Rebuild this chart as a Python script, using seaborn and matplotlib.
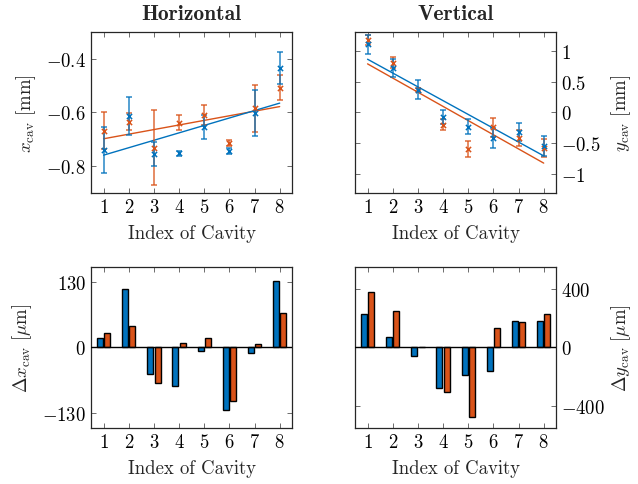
import numpy as np
import pandas as pd
import matplotlib
matplotlib.use("Agg")
import matplotlib.pyplot as plt
from matplotlib.ticker import FuncFormatter
import seaborn as sns

# ---------------- data ----------------
cavity = [1, 2, 3, 4, 5, 6, 7, 8]
series = ["A", "B"]

# Horizontal position x_cav [mm] (mean, error)
xcav_a = [-0.740, -0.614, -0.754, -0.752, -0.653, -0.743, -0.601, -0.433]
xcav_a_err = [0.086, 0.071, 0.045, 0.010, 0.045, 0.010, 0.085, 0.060]
xcav_b = [-0.668, -0.634, -0.731, -0.638, -0.610, -0.715, -0.585, -0.507]
xcav_b_err = [0.068, 0.033, 0.140, 0.027, 0.037, 0.011, 0.088, 0.047]
xfit_a = [0.0277, -0.7867]   # slope, intercept
xfit_b = [0.01714, -0.7151]

# Vertical position y_cav [mm]
ycav_a = [1.10, 0.715, 0.366, -0.080, -0.231, -0.414, -0.317, -0.548]
ycav_a_err = [0.150, 0.143, 0.156, 0.113, 0.121, 0.161, 0.148, 0.161]
ycav_b = [1.17, 0.806, 0.366, -0.200, -0.590, -0.242, -0.414, -0.575]
ycav_b_err = [0.080, 0.093, 0.025, 0.089, 0.134, 0.153, 0.134, 0.148]
yfit_a = [-0.2229, 1.0829]
yfit_b = [-0.2289, 1.0139]

# Deviations [um]
dx_a = [19, 117, -52, -77, -7, -125, -11, 132]
dx_b = [28, 43, -70, 8, 18, -107, 7, 68]
dy_a = [229, 73, -57, -274, -190, -160, 183, 183]
dy_b = [377, 251, 0, -304, -473, 133, 176, 229]

xticks_top_left = [-0.8, -0.6, -0.4]
yticks_top_right = [-1, -0.5, 0, 0.5, 1]
yticks_bottom_left = [-130, 0, 130]
yticks_bottom_right = [-400, 0, 400]

# ---------------- style ----------------
sns.set_theme(style="ticks")
plt.rcParams.update({
    "font.family": ["cmr10", "DejaVu Serif"],
    "mathtext.fontset": "cm",
    "axes.unicode_minus": False,
    "axes.formatter.use_mathtext": True,
    "font.size": 13.5,
    "axes.labelsize": 13.5,
    "xtick.labelsize": 13.5,
    "ytick.labelsize": 13.5,
    "axes.edgecolor": "#262626",
    "axes.linewidth": 0.9,
    "xtick.direction": "in",
    "ytick.direction": "in",
    "xtick.top": True,
    "ytick.right": True,
    "xtick.major.size": 3.5,
    "ytick.major.size": 3.5,
    "xtick.major.width": 0.6,
    "ytick.major.width": 0.6,
    "xtick.color": "#555555",
    "ytick.color": "#555555",
    "xtick.labelcolor": "black",
    "ytick.labelcolor": "black",
})

BLUE = "#0072BD"
ORANGE = "#D95319"

fig = plt.figure(figsize=(6.38, 4.85), dpi=100)
W = 0.3155
H = 0.332
ax_tl = fig.add_axes([0.1426, 0.600, W, H])
ax_tr = fig.add_axes([0.5564, 0.600, W, H])
ax_bl = fig.add_axes([0.1426, 0.1155, W, H])
ax_br = fig.add_axes([0.5564, 0.1155, W, H])

fmt = FuncFormatter(lambda v, p: f"${v:g}$")
xs = np.array(cavity, dtype=float)


def top_panel(ax, ya, yea, yb, yeb, fa, fb):
    for y, e, f, c in [(yb, yeb, fb, ORANGE), (ya, yea, fa, BLUE)]:
        ax.errorbar(xs, y, yerr=e, fmt="none", ecolor=c, elinewidth=1.1,
                    capsize=2.2, capthick=1.1, alpha=0.85, zorder=3)
        sns.scatterplot(x=xs, y=y, marker="x", color=c, s=14, linewidth=1.1,
                        ax=ax, zorder=4, legend=False)
        fit = np.polyval(f, xs)
        sns.lineplot(x=xs, y=fit, color=c, linewidth=1.0, ax=ax, zorder=2,
                     legend=False)


top_panel(ax_tl, xcav_a, xcav_a_err, xcav_b, xcav_b_err, xfit_a, xfit_b)
top_panel(ax_tr, ycav_a, ycav_a_err, ycav_b, ycav_b_err, yfit_a, yfit_b)

ax_tl.set_ylim(-0.9, -0.3)
ax_tl.set_yticks(xticks_top_left)
ax_tr.set_ylim(-1.3, 1.3)
ax_tr.set_yticks(yticks_top_right)


def bar_panel(ax, a, b):
    df = pd.DataFrame({
        "cavity": cavity * 2,
        "value": list(a) + list(b),
        "series": [series[0]] * len(a) + [series[1]] * len(b),
    })
    sns.barplot(data=df, x="cavity", y="value", hue="series", native_scale=True,
                palette=[BLUE, ORANGE], saturation=1, width=0.58, gap=0.17,
                edgecolor="black", linewidth=1.0, ax=ax, legend=False, zorder=3)
    ax.axhline(0, color="black", linewidth=1.0, zorder=4)


bar_panel(ax_bl, dx_a, dx_b)
bar_panel(ax_br, dy_a, dy_b)
ax_bl.set_ylim(-160, 160)
ax_bl.set_yticks(yticks_bottom_left)
ax_br.set_ylim(-550, 550)
ax_br.set_yticks(yticks_bottom_right)

for ax in (ax_tl, ax_tr, ax_bl, ax_br):
    ax.set_xlim(0.5, 8.5)
    ax.set_xticks(cavity)
    ax.xaxis.set_major_formatter(fmt)
    ax.yaxis.set_major_formatter(fmt)
    ax.set_xlabel("Index of Cavity", labelpad=6)
    for s in ax.spines.values():
        s.set_visible(True)

for ax in (ax_tr, ax_br):
    ax.yaxis.tick_right()
    ax.yaxis.set_label_position("right")
    ax.tick_params(axis="y", left=True, right=True, labelleft=False, labelright=True)

ax_tl.set_ylabel(r"$x_\mathrm{cav}$ [mm]", labelpad=6)
ax_tr.set_ylabel(r"$y_\mathrm{cav}$ [mm]", labelpad=6)
ax_bl.set_ylabel(r"$\Delta x_\mathrm{cav}\ [\mu\mathrm{m}]$", labelpad=6)
ax_br.set_ylabel(r"$\Delta y_\mathrm{cav}\ [\mu\mathrm{m}]$", labelpad=3)

ax_tl.set_title("Horizontal", fontfamily="cmb10", fontsize=15.5, pad=9)
ax_tr.set_title("Vertical", fontfamily="cmb10", fontsize=15.5, pad=9)

fig.savefig("out.png", dpi=100)
